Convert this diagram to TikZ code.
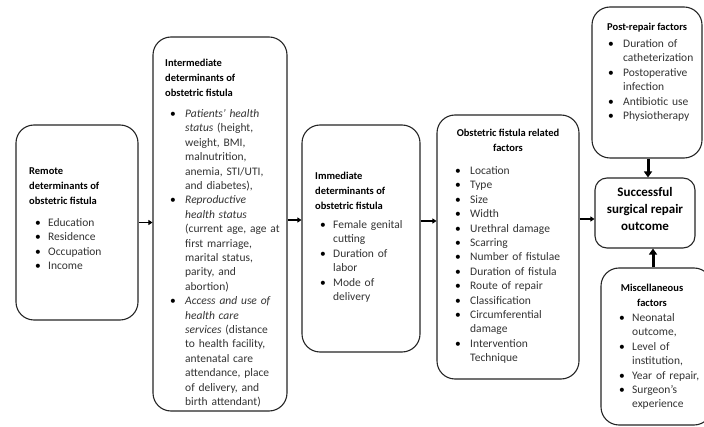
\documentclass[tikz,border=0pt]{standalone}
\usepackage{fontspec}
\setmainfont{Carlito}
\usetikzlibrary{arrows.meta}
\newlength\bulx
\newlength\hangx
\newcommand\bset[2]{\setlength\bulx{#1pt}\setlength\hangx{#2pt}}
\newcommand\bitem[1]{\par\hangindent=\hangx\hangafter=1\noindent\hbox to \hangx{\hspace*{\bulx}\textcolor{black}{\textbullet}\hfil}#1}
\begin{document}
\begin{tikzpicture}[x=1pt,y=-1pt,
  box/.style={draw=black!85, line width=1.1pt, rounded corners=18pt, inner sep=0pt},
  ttl/.style={font=\fontsize{10.5}{15}\selectfont\bfseries, align=left, inner sep=0pt, anchor=north west, text=black},
  ctl/.style={font=\fontsize{10.5}{15}\selectfont\bfseries, align=center, inner sep=0pt, anchor=north, text=black},
  lst/.style={font=\fontsize{11.5}{14.4}\selectfont, text=black!80, align=left, inner sep=0pt, anchor=north west, text width=135pt},
  harr/.style={-{Triangle[length=4pt,width=5pt]}, line width=1.6pt},
  varr/.style={-{Triangle[length=6pt,width=8pt]}, line width=3pt}]
\fill[white] (0,0) rectangle (704,427);
\useasboundingbox (0,0) rectangle (704,427);
% boxes
\node[box, minimum width=122pt, minimum height=195pt] (b1) at (77,222.5) {};
\node[box, minimum width=134pt, minimum height=374pt] (b2) at (220,224) {};
\node[box, minimum width=118pt, minimum height=227pt] (b3) at (361,238.5) {};
\node[box, minimum width=142pt, minimum height=264pt] (b4) at (508,247) {};
\node[box, minimum width=110pt, minimum height=151pt] (bp) at (647,82.5) {};
\node[box, rounded corners=12pt, minimum width=100pt, minimum height=70pt] (bo) at (645,213) {};
\node[box, minimum width=111pt, minimum height=157pt] (bm) at (656.5,346.5) {};
% box 1
\node[ttl] (t1) at (29,167) {Remote\\determinants of\\obstetric fistula};
\node[lst] (l1) at (29,212) {\bset{6}{19}\bitem{Education}\bitem{Residence}\bitem{Occupation}\bitem{Income}\par};
% box 2
\node[ttl] (t2) at (165,59) {Intermediate\\determinants of\\obstetric fistula};
\node[lst] (l2) at (165,103) {\bset{5}{20}%
\bitem{\textit{Patients' health}\newline\textit{status} (height,\newline weight, BMI,\newline malnutrition,\newline anemia, STI/UTI,\newline and diabetes),}%
\bitem{\textit{Reproductive}\newline\textit{health status}\newline (current age, age at\newline first marriage,\newline marital status,\newline parity, and\newline abortion)}%
\bitem{\textit{Access and use of}\newline\textit{health care}\newline\textit{services} (distance\newline to health facility,\newline antenatal care\newline attendance, place\newline of delivery, and\newline birth attendant)}\par};
% box 3
\node[ttl] (t3) at (315,172) {Immediate\\determinants of\\obstetric fistula};
\node[lst] (l3) at (315,214) {\bset{5}{18}%
\bitem{Female genital\newline cutting}\bitem{Duration of\newline labor}\bitem{Mode of\newline delivery}\par};
% box 4
\node[ctl] (t4) at (508,129) {Obstetric fistula related\\factors};
\node[lst] (l4) at (455,160) {\bset{0}{15}%
\bitem{Location}\bitem{Type}\bitem{Size}\bitem{Width}\bitem{Urethral damage}\bitem{Scarring}\bitem{Number of fistulae}\bitem{Duration of fistula}\bitem{Route of repair}\bitem{Classification}\bitem{Circumferential\newline damage}\bitem{Intervention\newline Technique}\par};
% post-repair
\node[ttl] (tp) at (607,23) {Post-repair factors};
\node[lst] (lp) at (607,33) {\bset{1}{16}%
\bitem{Duration of\newline catheterization}\bitem{Postoperative\newline infection}\bitem{Antibiotic use}\bitem{Physiotherapy}\par};
% outcome
\node[font=\fontsize{13}{17}\selectfont\bfseries, align=center, inner sep=0pt] (to) at (645,209) {Successful\\surgical repair\\outcome};
% miscellaneous
\node[ctl] (tm) at (652,284) {Miscellaneous\\factors};
\node[lst] (lm) at (619,307) {\bset{0}{13}%
\bitem{Neonatal\newline outcome,}\bitem{Level of\newline institution,}\bitem{Year of repair,}\bitem{Surgeon's\newline experience}\par};
% connectors
\draw[harr] (b1.east) -- (b1.east -| b2.west);
\draw[harr] (b2.east |- 0,220) -- (b3.west |- 0,220);
\draw[harr] (b3.east |- 0,221) -- (b4.west |- 0,221);
\draw[harr] (b4.east |- 0,219) -- (bo.west |- 0,219);
\draw[varr] (bp.south -| 648,0) -- (bo.north -| 648,0);
\draw[varr] (bm.north -| 653,0) -- (bo.south -| 653,0);
\end{tikzpicture}
\end{document}
